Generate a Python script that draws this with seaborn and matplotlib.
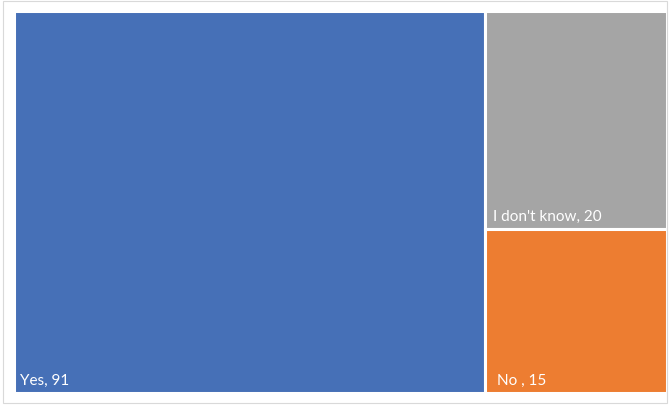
import matplotlib
matplotlib.use("Agg")
import matplotlib.pyplot as plt
from matplotlib.patches import Rectangle
import seaborn as sns

# Survey answers and counts
labels = ["Yes", "I don't know", "No "]
counts = [91, 20, 15]
colors = ["#4670B7", "#A5A5A5", "#ED7D31"]

sns.set_theme(style="white")
plt.rcParams["font.family"] = ["Lato", "DejaVu Sans"]

W, H = 669, 406
fig = plt.figure(figsize=(W / 100, H / 100), dpi=100)
fig.patch.set_facecolor("white")

# light frame around the chart area
fig.patches.append(Rectangle((3 / W, 1 - 404 / H), 664 / W, 402 / H,
                             transform=fig.transFigure, fill=False,
                             edgecolor="#D9D9D9", linewidth=0.8))

left, right, top, bottom = 14, 666.5, 12, 394
ax = fig.add_axes([left / W, 1 - bottom / H, (right - left) / W, (bottom - top) / H])

# Treemap layout: largest group fills a column, the rest stack in the remaining column
total = sum(counts)
big_w = counts[0] / total
rest = sum(counts[1:])
rects = [(0.0, 0.0, big_w, 1.0)]
y = 1.0
for c in counts[1:]:
    h = c / rest
    y -= h
    rects.append((big_w, y, 1.0 - big_w, h))

for (x0, y0, w, h), col in zip(rects, colors):
    ax.bar(x0, h, width=w, bottom=y0, align="edge", color=col,
           edgecolor="white", linewidth=2.2)

ax.set_xlim(0, 1)
ax.set_ylim(0, 1)
ax.axis("off")

# labels in the lower-left of each tile
pad_x = [6.5, 7.5, 11.5]
for (x0, y0, w, h), lab, c, px in zip(rects, labels, counts, pad_x):
    ax.annotate(f"{lab}, {c}", xy=(x0, y0), xytext=(px, 9),
                textcoords="offset pixels", color="white", fontsize=11,
                ha="left", va="baseline")

fig.savefig("out.png", dpi=100, facecolor="white")
